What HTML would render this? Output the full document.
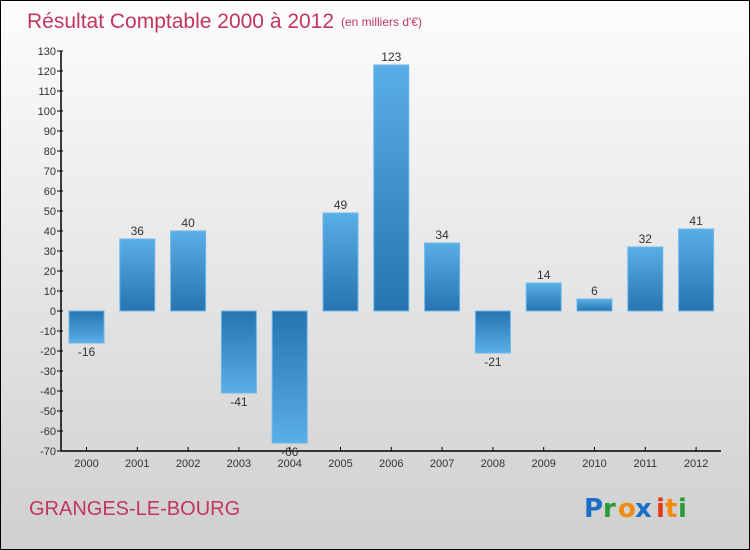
<!DOCTYPE html>
<html><head><meta charset="utf-8"><style>
body{margin:0}
#c{position:relative;width:748px;height:548px;border:1px solid #000;background:linear-gradient(#fdfdfd,#e6e6e6 50%,#cfcfcf);font-family:"Liberation Sans",sans-serif;overflow:hidden}
svg{position:absolute;left:0;top:0}
</style></head><body>
<div id="c">
<svg id="s" width="748" height="548">
<defs>
<linearGradient id="gp" x1="0" y1="0" x2="0" y2="1"><stop offset="0" stop-color="#5aaee6"/><stop offset="1" stop-color="#2674b0"/></linearGradient>
<linearGradient id="gn" x1="0" y1="0" x2="0" y2="1"><stop offset="0" stop-color="#2674b0"/><stop offset="1" stop-color="#5aaee6"/></linearGradient>
</defs>
<text x="26" y="27" font-size="21" fill="#c2365e">Résultat Comptable 2000 à 2012</text>
<text x="340" y="25" font-size="12" fill="#c2365e">(en milliers d'€)</text>
<text x="28" y="514" font-size="20" fill="#c2365e">GRANGES-LE-BOURG</text>
<g font-size="26" font-weight="bold" font-family="'DejaVu Sans',sans-serif">
<text x="583" y="516" fill="#1a6fc7">P</text><text x="602" y="516" fill="#2a9a3a">r</text><text x="617" y="516" fill="#f08a10">o</text><text x="634" y="516" fill="#1a6fc7">x</text><text x="655" y="516" fill="#e03a1a">i</text><text x="664" y="516" fill="#f08a10">t</text><text x="677" y="516" fill="#2a9a3a">i</text>
</g>
<g id="plot"></g>
</svg>
</div>
<script>
const years=["2000","2001","2002","2003","2004","2005","2006","2007","2008","2009","2010","2011","2012"];
const values=[-16,36,40,-41,-66,49,123,34,-21,14,6,32,41];
const yTicks=[130,120,110,100,90,80,70,60,50,40,30,20,10,0,-10,-20,-30,-40,-50,-60,-70];
const NS="http://www.w3.org/2000/svg";
const g=document.getElementById('plot');
const y=v=>310-v*2;
const x=i=>85.5+i*50.8;
function el(t,a){const e=document.createElementNS(NS,t);for(const k in a)e.setAttribute(k,a[k]);g.appendChild(e);return e;}
let ax=el('line',{x1:60,y1:y(130),x2:60,y2:y(-70),stroke:'#000','stroke-width':1.5});


let bx=el('line',{x1:60,y1:y(-70),x2:720,y2:y(-70),stroke:'#000','stroke-width':1.5});


yTicks.forEach(v=>{
  el('line',{x1:56,y1:y(v),x2:62,y2:y(v),stroke:'#000'});
  const t=el('text',{x:55,y:y(v)+4,'font-size':11,fill:'#333','text-anchor':'end'});
  t.textContent=v;
  
  
});
values.forEach((v,i)=>{
  const cx=x(i);
  const top=Math.min(y(v),y(0)),h=Math.abs(y(v)-y(0));
  const r=el('rect',{x:cx-17.5,y:top,width:35,height:h,fill:v>=0?'url(#gp)':'url(#gn)',stroke:'#6bb8ec','stroke-width':1});
  
  
  const lt=el('text',{x:cx,y:v>=0?y(v)-4:y(v)+13,'font-size':12,fill:'#333','text-anchor':'middle'});
  lt.textContent=v;
  
  
  el('line',{x1:cx,y1:y(-70)-4,x2:cx,y2:y(-70),stroke:'#000'});
  const xt=el('text',{x:cx,y:y(-70)+16,'font-size':11,fill:'#333','text-anchor':'middle'});
  xt.textContent=years[i];
  
  
});
</script>
</body></html>
